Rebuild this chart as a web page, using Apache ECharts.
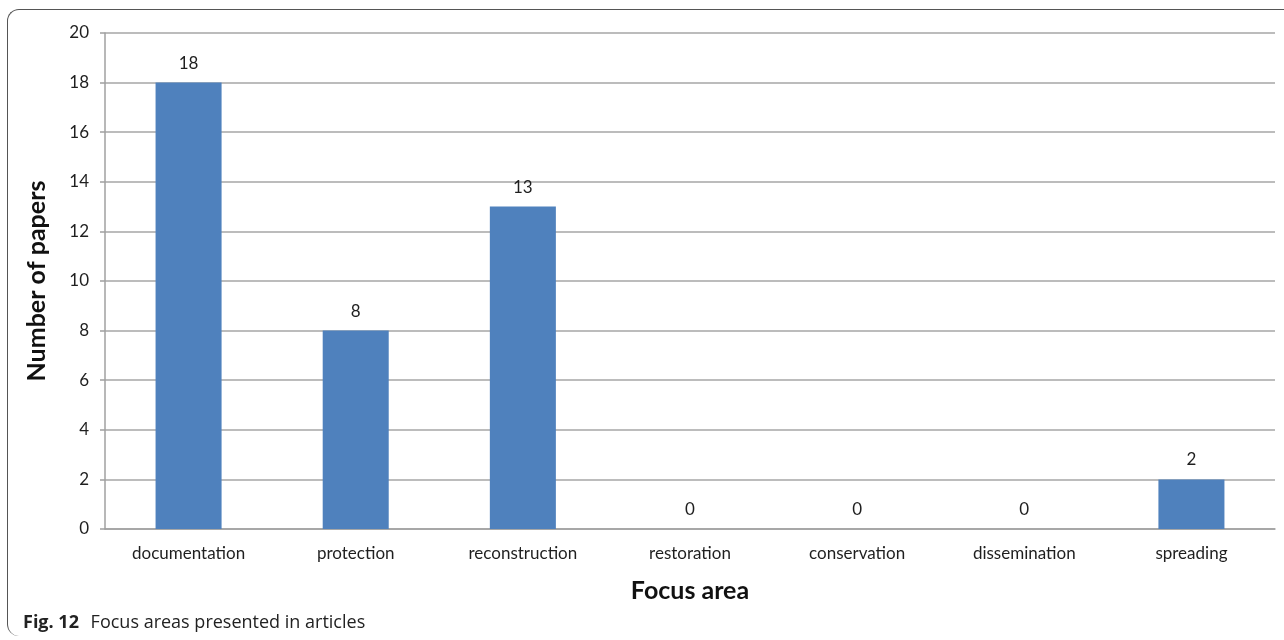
<!DOCTYPE html>
<html><head><meta charset="utf-8">
<script src="https://cdn.jsdelivr.net/npm/echarts@6/dist/echarts.min.js"></script>
<style>
html,body{margin:0;padding:0;background:#fff;}
#frame{position:absolute;left:7px;top:9px;width:1290px;height:627px;border-top:1.5px solid #555;border-left:1.5px solid #555;border-top-left-radius:12px;border-bottom-left-radius:12px;box-sizing:border-box;}
#chart{position:absolute;left:0;top:0;width:1284px;height:640px;}
#cap{position:absolute;left:23px;top:609px;font-family:"Open Sans",sans-serif;font-size:18px;line-height:24px;color:#222;white-space:nowrap;}
#cap b{font-weight:700;margin-right:7px;}
</style></head>
<body>
<div id="frame"></div>
<div id="chart"></div>
<div id="cap"><b>Fig. 12</b> Focus areas presented in articles</div>
<script>
var categories = ["documentation","protection","reconstruction","restoration","conservation","dissemination","spreading"];
var papers = [18, 8, 13, 0, 0, 0, 2];
var yTicks = {min:0, max:20, interval:2};
var xTitle = "Focus area";
var yTitle = "Number of papers";

var chart = echarts.init(document.getElementById('chart'), null, {renderer:'canvas'});
var textCol = '#1f1f1f';
chart.setOption({
  animation:false,
  grid:{left:105, right:9, top:33, bottom:111, containLabel:false},
  xAxis:{
    type:'category', data:categories,
    axisLine:{lineStyle:{color:'#a0a0a0', width:1.5}},
    axisTick:{show:false},
    axisLabel:{color:textCol, fontFamily:'Lato', fontSize:17, margin:16},
    name:xTitle, nameLocation:'middle', nameGap:49,
    nameTextStyle:{color:'#111', fontFamily:'Lato', fontWeight:'bold', fontSize:25}
  },
  yAxis:{
    type:'value', min:yTicks.min, max:yTicks.max, interval:yTicks.interval,
    axisLine:{show:true, lineStyle:{color:'#a0a0a0', width:1.5}},
    axisTick:{show:true, length:5, lineStyle:{color:'#a0a0a0', width:1.5}},
    axisLabel:{color:textCol, fontFamily:'Lato', fontSize:17, margin:16},
    splitLine:{lineStyle:{color:'#a6a6a6', width:1.5}},
    name:yTitle, nameLocation:'middle', nameGap:56, nameRotate:90,
    nameTextStyle:{color:'#111', fontFamily:'Lato', fontWeight:'bold', fontSize:25}
  },
  series:[{
    type:'bar', data:papers, barWidth:'39.5%',
    itemStyle:{color:'#4f81bd'},
    label:{show:true, position:'top', distance:11, color:textCol, fontFamily:'Lato', fontSize:17}
  }]
});
</script>
</body></html>
